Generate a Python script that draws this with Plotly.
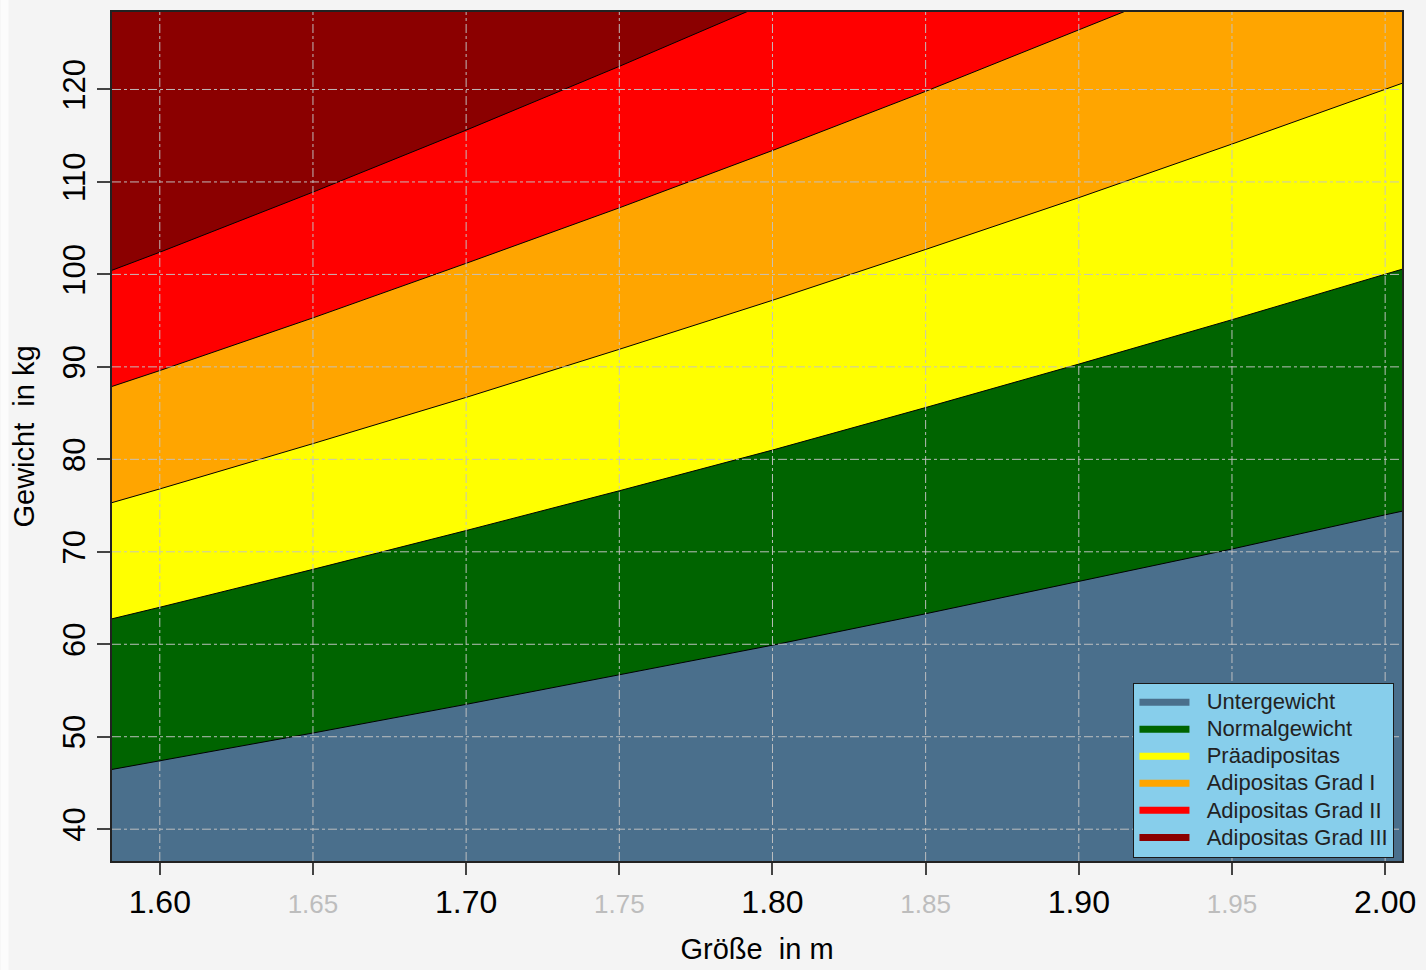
import plotly.graph_objects as go

# Heights (m) and category upper boundaries (kg)
heights = [1.58, 1.60, 1.65, 1.70, 1.75, 1.80, 1.85, 1.90, 1.95, 2.00, 2.01]
b_unter = [46.2, 47.4, 50.4, 53.5, 56.7, 59.9, 63.3, 66.8, 70.3, 74.0, 74.7]
b_normal = [62.4, 64.0, 68.1, 72.3, 76.6, 81.0, 85.6, 90.3, 95.1, 100.0, 101.0]
b_prae = [74.9, 76.8, 81.7, 86.7, 91.9, 97.2, 102.7, 108.3, 114.1, 120.0, 121.2]
b_grad1 = [87.4, 89.6, 95.3, 101.2, 107.2, 113.4, 119.8, 126.4, 133.1, 140.0, 141.4]
b_grad2 = [99.9, 102.4, 108.9, 115.6, 122.5, 129.6, 136.9, 144.4, 152.1, 160.0, 161.6]

categories = ["Untergewicht", "Normalgewicht", "Präadipositas",
              "Adipositas Grad I", "Adipositas Grad II", "Adipositas Grad III"]
colors = ["#4A6F8C", "#006400", "#FFFF00", "#FFA500", "#FF0000", "#8B0000"]

x_ticks = [1.60, 1.65, 1.70, 1.75, 1.80, 1.85, 1.90, 1.95, 2.00]
y_ticks = [40, 50, 60, 70, 80, 90, 100, 110, 120]

FONT = "Liberation Sans, Arial, sans-serif"
GRID = dict(color="rgba(195,195,195,0.95)", width=1, dash="dashdot")

W, H = 1426, 970
ML, MR, MT, MB = 112, 17, 10, 105
PW, PH = W - ML - MR, H - MT - MB

fig = go.Figure()

bounds = [b_unter, b_normal, b_prae, b_grad1, b_grad2]
# draw from highest boundary down; each fill covers the area below it
for i in reversed(range(5)):
    fig.add_trace(go.Scatter(
        x=heights, y=bounds[i], mode="lines",
        line=dict(color="black", width=1),
        fill="tozeroy", fillcolor=colors[i],
        showlegend=False, hoverinfo="skip"))

# legend entries
for name, c in zip(categories, colors):
    fig.add_trace(go.Scatter(
        x=[None], y=[None], mode="lines",
        name=f'<span style="font-size:22px">\u00a0\u00a0{name}</span>',
        line=dict(color=c, width=7)))

# grid lines drawn above the coloured bands
for v in x_ticks:
    fig.add_shape(type="line", xref="x", yref="paper", x0=v, x1=v, y0=0, y1=1,
                  line=GRID, layer="above")
for v in y_ticks:
    fig.add_shape(type="line", xref="paper", yref="y", x0=0, x1=1, y0=v, y1=v,
                  line=GRID, layer="above")

# thin white strip at the very left edge of the page
fig.add_shape(type="rect", xref="paper", yref="paper",
              x0=-ML / PW, x1=-(ML - 8) / PW, y0=-MB / PH - 0.01, y1=1 + MT / PH + 0.01,
              fillcolor="#fcfcfc", line=dict(width=0), layer="below")

def xlabel(v):
    s = f"{v:.2f}"
    if round(v * 100) % 10 == 5:
        return f'<span style="font-size:26px;fill:#bdbdbd">{s}</span>'
    return s

fig.update_layout(
    width=W, height=H,
    margin=dict(l=ML, r=MR, t=MT, b=MB),
    paper_bgcolor="#f4f4f4",
    plot_bgcolor=colors[5],
    font=dict(family=FONT, color="black"),
    showlegend=True,
    legend=dict(
        x=(1139 - ML) / PW, y=0.004, xanchor="left", yanchor="bottom",
        bgcolor="#87CEEB", bordercolor="#1a1a1a", borderwidth=1,
        font=dict(size=18.5, family=FONT, color="#222222"),
        itemwidth=50, tracegroupgap=0),
    xaxis=dict(
        range=[1.5844, 2.0055],
        tickmode="array", tickvals=x_ticks,
        ticktext=[xlabel(v) for v in x_ticks],
        tickfont=dict(size=32, family=FONT, color="black"),
        ticks="outside", ticklen=12, tickcolor="#444444", tickwidth=1.5,
        showline=True, linecolor="#222222", linewidth=1.5, mirror=True,
        showgrid=False, zeroline=False,
        title=dict(text="Größe\u00a0 in m", font=dict(size=29, family=FONT),
                   standoff=20)),
    yaxis=dict(
        range=[36.56, 128.38],
        tickmode="array", tickvals=y_ticks,
        ticktext=[str(v) for v in y_ticks],
        tickangle=-90,
        tickfont=dict(size=31, family=FONT, color="black"),
        ticks="outside", ticklen=13, tickcolor="#444444", tickwidth=1.5,
        showline=True, linecolor="#222222", linewidth=1.5, mirror=True,
        showgrid=False, zeroline=False,
        title=dict(text="Gewicht\u00a0 in kg", font=dict(size=29, family=FONT),
                   standoff=14)),
)

fig.write_html(
    "out.html",
    config={"displayModeBar": False},
    post_script=(
        "document.documentElement.style.cssText='margin:0;padding:0;overflow:hidden';"
        "document.body.style.cssText='margin:0;padding:0;overflow:hidden';"))
